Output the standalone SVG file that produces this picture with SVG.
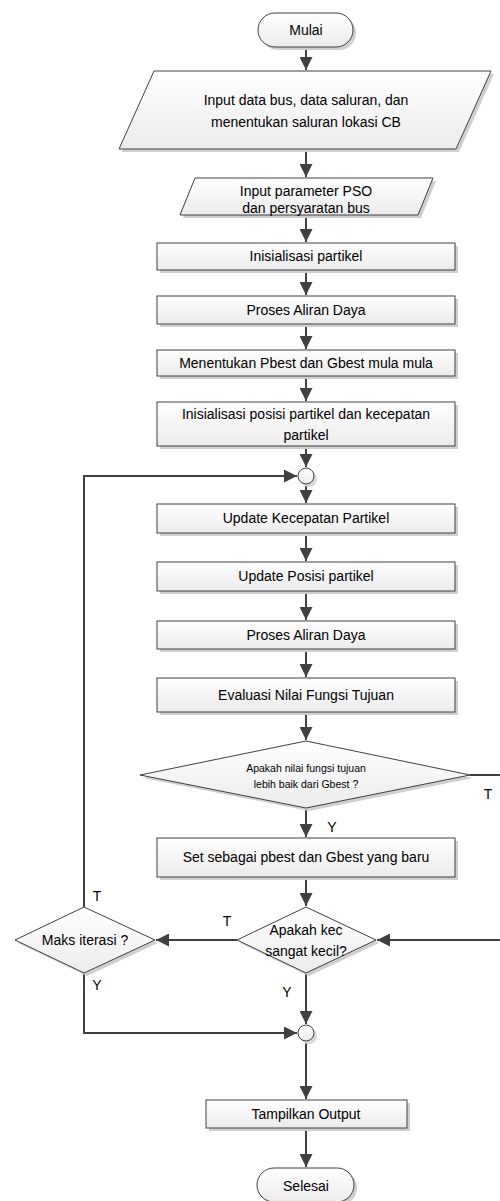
<svg xmlns="http://www.w3.org/2000/svg" width="500" height="1201" viewBox="0 0 500 1201">
<defs>
<linearGradient id="g" x1="0" y1="0" x2="0" y2="1">
<stop offset="0" stop-color="#ffffff"/>
<stop offset="1" stop-color="#ebebeb"/>
</linearGradient>
<marker id="ah" markerUnits="userSpaceOnUse" markerWidth="13" markerHeight="13" refX="13" refY="6.5" orient="auto">
<path d="M0,0 L13,6.5 L0,13 z" fill="#404040"/>
</marker>
</defs>
<style>
.s{fill:url(#g);stroke:#404040;stroke-width:1}
.sh{fill:#cfcfcf;stroke:none}
.t{font-family:"Liberation Sans",Arial,sans-serif;font-size:14px;fill:#000;text-anchor:middle}
.ts{font-family:"Liberation Sans",Arial,sans-serif;font-size:10.5px;fill:#000;text-anchor:middle}
.c{fill:none;stroke:#404040;stroke-width:2}
.a{marker-end:url(#ah)}
</style>
<rect width="500" height="1201" fill="#fff"/>

<g id="connectors">
<path class="c a" d="M306,47 V70"/>
<path class="c a" d="M306,149 V177"/>
<path class="c a" d="M306,215 V242"/>
<path class="c a" d="M306,270 V295"/>
<path class="c a" d="M306,324 V349"/>
<path class="c a" d="M306,376 V401"/>
<path class="c a" d="M306,446 V467"/>
<path class="c a" d="M306,484 V503"/>
<path class="c a" d="M306,533 V561"/>
<path class="c a" d="M306,591 V620"/>
<path class="c a" d="M306,649 V677"/>
<path class="c a" d="M306,712 V740"/>
<path class="c a" d="M306,808 V837"/>
<path class="c a" d="M306,877 V906"/>
<path class="c a" d="M470,775 H504 V940 H377"/>
<path class="c a" d="M237,940 H156"/>
<path class="c a" d="M84,907 V476 H297"/>
<path class="c a" d="M84,973 V1033 H297"/>
<path class="c a" d="M306,973 V1024"/>
<path class="c a" d="M306,1041 V1099"/>
<path class="c a" d="M306,1128 V1167"/>
<text class="t" x="488" y="799">T</text>
<text class="t" x="332" y="832">Y</text>
<text class="t" x="97" y="901">T</text>
<text class="t" x="227" y="926">T</text>
<text class="t" x="97" y="990">Y</text>
<text class="t" x="287" y="997">Y</text>
</g>

<g id="mulai">
<rect class="sh" x="261" y="16" width="95" height="34" rx="17"/>
<rect class="s" x="258" y="13" width="95" height="34" rx="17"/>
<text class="t" x="306" y="35">Mulai</text>
</g>

<g id="input1">
<polygon class="sh" points="157,74 494,74 459,152 122,152"/>
<polygon class="s" points="154,71 491,71 456,149 119,149"/>
<text class="t" x="306" y="105">Input data bus, data saluran, dan</text>
<text class="t" x="306" y="127">menentukan saluran lokasi CB</text>
</g>

<g id="input2">
<polygon class="sh" points="198,181 436,181 421,218 183,218"/>
<polygon class="s" points="195,178 433,178 418,215 180,215"/>
<text class="t" x="306" y="196">Input parameter PSO</text>
<text class="t" x="306" y="213">dan persyaratan bus</text>
</g>

<g id="inisialisasi">
<rect class="sh" x="160" y="246" width="298" height="27"/>
<rect class="s" x="157" y="243" width="298" height="27"/>
<text class="t" x="306" y="261">Inisialisasi partikel</text>
</g>

<g id="proses1">
<rect class="sh" x="160" y="299" width="298" height="28"/>
<rect class="s" x="157" y="296" width="298" height="28"/>
<text class="t" x="306" y="315">Proses Aliran Daya</text>
</g>

<g id="menentukan">
<rect class="sh" x="160" y="353" width="298" height="26"/>
<rect class="s" x="157" y="350" width="298" height="26"/>
<text class="t" x="306" y="368">Menentukan Pbest dan Gbest mula mula</text>
</g>

<g id="inisialisasi2">
<rect class="sh" x="160" y="405" width="298" height="44"/>
<rect class="s" x="157" y="402" width="298" height="44"/>
<text class="t" x="306" y="419">Inisialisasi posisi partikel dan kecepatan</text>
<text class="t" x="306" y="440">partikel</text>
</g>

<g id="junction1">
<circle cx="309" cy="479" r="8" fill="#d8d8d8"/>
<circle class="s" cx="306" cy="476" r="8"/>
</g>

<g id="updatekec">
<rect class="sh" x="160" y="507" width="298" height="29"/>
<rect class="s" x="157" y="504" width="298" height="29"/>
<text class="t" x="306" y="523">Update Kecepatan Partikel</text>
</g>

<g id="updatepos">
<rect class="sh" x="160" y="565" width="298" height="29"/>
<rect class="s" x="157" y="562" width="298" height="29"/>
<text class="t" x="306" y="581">Update Posisi partikel</text>
</g>

<g id="proses2">
<rect class="sh" x="160" y="624" width="298" height="28"/>
<rect class="s" x="157" y="621" width="298" height="28"/>
<text class="t" x="306" y="640">Proses Aliran Daya</text>
</g>

<g id="evaluasi">
<rect class="sh" x="160" y="681" width="298" height="34"/>
<rect class="s" x="157" y="678" width="298" height="34"/>
<text class="t" x="306" y="700">Evaluasi Nilai Fungsi Tujuan</text>
</g>

<g id="decision1">
<polygon class="sh" points="309,744 473,778 309,811 143,778"/>
<polygon class="s" points="306,741 470,775 306,808 140,775"/>
<text class="ts" x="306" y="772">Apakah nilai fungsi tujuan</text>
<text class="ts" x="306" y="788">lebih baik dari Gbest ?</text>
</g>

<g id="setbest">
<rect class="sh" x="160" y="841" width="298" height="39"/>
<rect class="s" x="157" y="838" width="298" height="39"/>
<text class="t" x="306" y="862">Set sebagai pbest dan Gbest yang baru</text>
</g>

<g id="decision2">
<polygon class="sh" points="309,910 379,943 309,976 240,943"/>
<polygon class="s" points="306,907 376,940 306,973 237,940"/>
<text class="t" x="306" y="935">Apakah kec</text>
<text class="t" x="306" y="956">sangat kecil?</text>
</g>

<g id="maks">
<polygon class="sh" points="87,910 158,943 87,976 18,943"/>
<polygon class="s" points="84,907 155,940 84,973 15,940"/>
<text class="t" x="85" y="945">Maks iterasi ?</text>
</g>

<g id="junction2">
<circle cx="309" cy="1036" r="8" fill="#d8d8d8"/>
<circle class="s" cx="306" cy="1033" r="8"/>
</g>

<g id="tampilkan">
<rect class="sh" x="209" y="1103" width="201" height="28"/>
<rect class="s" x="206" y="1100" width="201" height="28"/>
<text class="t" x="306" y="1119">Tampilkan Output</text>
</g>

<g id="selesai">
<rect class="sh" x="260" y="1171" width="97" height="34" rx="17"/>
<rect class="s" x="257" y="1168" width="97" height="34" rx="17"/>
<text class="t" x="306" y="1191">Selesai</text>
</g>
</svg>
